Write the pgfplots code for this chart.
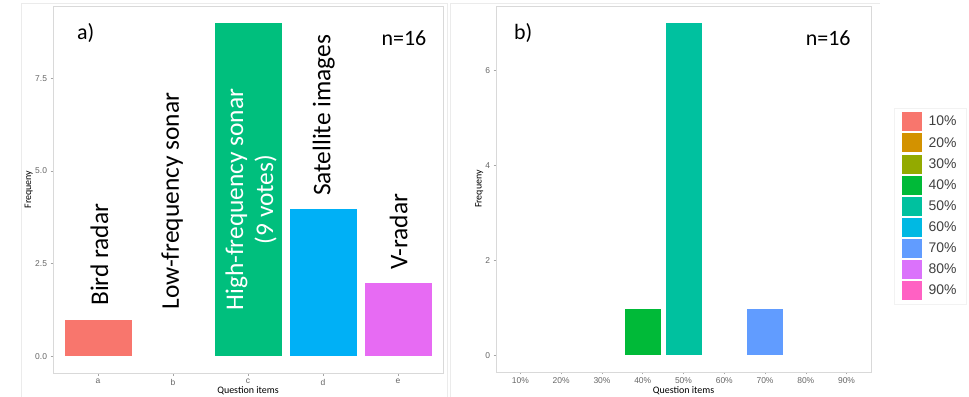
\documentclass[border=0pt]{standalone}
\usepackage{pgfplots}
\pgfplotsset{compat=1.18}
\usepackage{fontspec}
\setmainfont{Carlito}
\newfontfamily\arial{Liberation Sans}
\definecolor{ca}{HTML}{F8766D}
\definecolor{cc}{HTML}{00BF7D}
\definecolor{cd}{HTML}{00B0F6}
\definecolor{ce}{HTML}{E76BF3}
\definecolor{h1}{HTML}{F8766D}
\definecolor{h2}{HTML}{D39200}
\definecolor{h3}{HTML}{93AA00}
\definecolor{h4}{HTML}{00BA38}
\definecolor{h5}{HTML}{00C19F}
\definecolor{h6}{HTML}{00B9E3}
\definecolor{h7}{HTML}{619CFF}
\definecolor{h8}{HTML}{DB72FB}
\definecolor{h9}{HTML}{FF61C3}
\tikzset{ann/.style={font=\fontsize{22}{24}\selectfont, text=black},
  rot/.style={font=\fontsize{25.5}{30}\selectfont, text=black, rotate=90, align=center}}
\pgfplotsset{
  gg/.style={
    scale only axis,
    anchor=south west,
    ybar, bar width=0.9, bar shift=0pt,
    axis line style={black!15, line width=0.7bp},
    tick style={black!35, line width=0.5bp},
    tick align=outside, major tick length=2.5bp,
    tick pos=left,
    /pgf/number format/assume math mode=true,
    ticklabel style={font=\arial\fontsize{8.5}{10}\selectfont, text=black!60},
    label style={font=\arial\fontsize{10.5}{12}\selectfont, text=black!90},
    xlabel={Question items}, ylabel={Frequeny},
    every axis plot/.append style={draw=white, line width=0.4bp},
  },
}
\begin{document}
\begin{tikzpicture}
\useasboundingbox (0,0) rectangle (969bp,397bp);
\draw[black!8, line width=0.6bp] (21bp,0bp) -- (21bp,394bp) -- (447bp,394bp) -- (447bp,0bp);
\draw[black!8, line width=0.6bp] (450bp,0bp) -- (450bp,394bp) -- (880bp,394bp);
\begin{axis}[gg,
  at={(53bp,24bp)}, width=390bp, height=367bp,
  xmin=-0.6, xmax=4.6, ymin=-0.45, ymax=9.45,
  xtick={0,1,2,3,4}, xticklabels={a,b,c,d,e},
  ytick={0,2.5,5,7.5},
  yticklabel style={/pgf/number format/.cd, fixed, fixed zerofill, precision=1},
  every axis y label/.style={at={(axis description cs:-0.062,0.5)}, rotate=90, anchor=center},
  every axis x label/.style={at={(axis description cs:0.5,-0.049)}, anchor=center},
]
\addplot[fill=ca] coordinates {(0,1)};
\addplot[fill=cc] coordinates {(2,9)};
\addplot[fill=cd] coordinates {(3,4)};
\addplot[fill=ce] coordinates {(4,2)};
\node[ann] at (axis cs:-0.165,8.73) {a)};
\node[ann] at (axis cs:4.08,8.59) {n=16};
\node[rot] at (axis cs:0.02,2.74) {Bird radar};
\node[rot] at (axis cs:0.99,4.19) {Low-frequency sonar};
\node[rot, text=white] at (axis cs:2.04,4.23) {High-frequency sonar\\(9 votes)};
\node[rot] at (axis cs:3.01,6.5) {Satellite images};
\node[rot] at (axis cs:4.01,3.36) {V-radar};
\end{axis}
\begin{axis}[gg,
  at={(496bp,25bp)}, width=375bp, height=366bp,
  xmin=-0.6, xmax=8.6, ymin=-0.35, ymax=7.35,
  xtick={0,...,8}, xticklabels={10\%,20\%,30\%,40\%,50\%,60\%,70\%,80\%,90\%},
  ytick={0,2,4,6},
  every axis y label/.style={at={(axis description cs:-0.045,0.5)}, rotate=90, anchor=center},
  every axis x label/.style={at={(axis description cs:0.5,-0.052)}, anchor=center},
  legend image code/.code={\fill[#1] (0bp,-9.5bp) rectangle (20bp,9.5bp); \path (25bp,0bp);},
  legend style={at={(1.061,0.721)}, anchor=north west, draw=black!5, fill=white,
    font=\arial\fontsize{14}{16}\selectfont, text=black!75,
    row sep=2.1bp, inner xsep=8bp, inner ysep=4bp,
    nodes={inner sep=1.5bp, anchor=west}},
  legend cell align=left,
]
\addplot[fill=h4, forget plot] coordinates {(3,1)};
\addplot[fill=h5, forget plot] coordinates {(4,7)};
\addplot[fill=h7, forget plot] coordinates {(6,1)};
\addlegendimage{fill=h1, draw=none}\addlegendentry{10\%}
\addlegendimage{fill=h2, draw=none}\addlegendentry{20\%}
\addlegendimage{fill=h3, draw=none}\addlegendentry{30\%}
\addlegendimage{fill=h4, draw=none}\addlegendentry{40\%}
\addlegendimage{fill=h5, draw=none}\addlegendentry{50\%}
\addlegendimage{fill=h6, draw=none}\addlegendentry{60\%}
\addlegendimage{fill=h7, draw=none}\addlegendentry{70\%}
\addlegendimage{fill=h8, draw=none}\addlegendentry{80\%}
\addlegendimage{fill=h9, draw=none}\addlegendentry{90\%}
\node[ann] at (axis cs:0.07,6.78) {b)};
\node[ann] at (axis cs:7.55,6.68) {n=16};
\end{axis}
\end{tikzpicture}
\end{document}
